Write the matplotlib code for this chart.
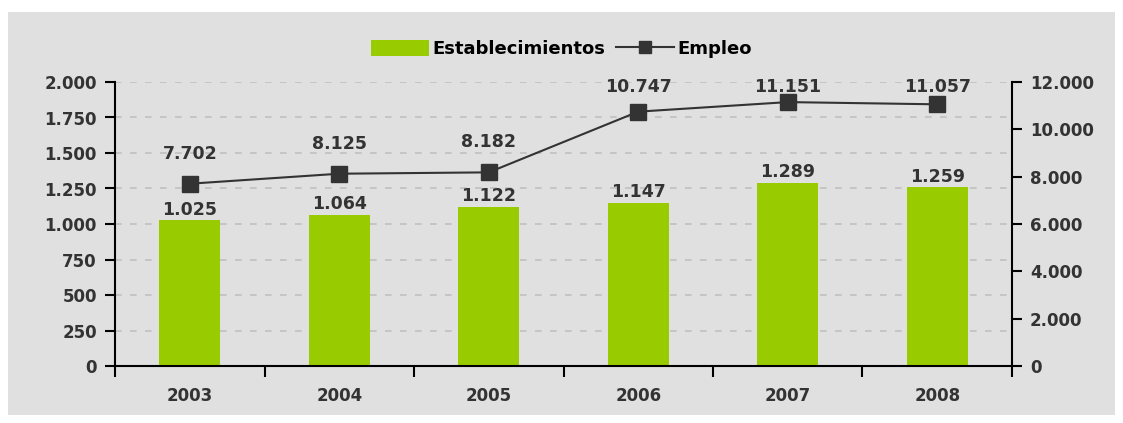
import matplotlib
matplotlib.use("Agg")
import matplotlib.pyplot as plt
from matplotlib.patches import Rectangle
from matplotlib.lines import Line2D
from matplotlib.ticker import FuncFormatter

years = ["2003", "2004", "2005", "2006", "2007", "2008"]
establecimientos = [1025, 1064, 1122, 1147, 1289, 1259]
empleo = [7702, 8125, 8182, 10747, 11151, 11057]

def fmt(v):
    return f"{int(round(v)):,}".replace(",", ".")

W, H = 1123, 423
fig = plt.figure(figsize=(W/100, H/100), dpi=100)
fig.patch.set_facecolor("white")
bg = Rectangle((8/W, 1 - 415/H), (1115-8)/W, (415-12)/H,
               transform=fig.transFigure, facecolor="#e0e0e0",
               edgecolor="none", zorder=-10)
fig.add_artist(bg)

txt = "#333333"
plt.rcParams['font.family'] = ['DejaVu Sans']
fw = "bold"
fs = 12

ax = fig.add_axes([115/W, 1 - 366/H, (1012-115)/W, (366-82)/H])
ax.set_facecolor("none")
x = list(range(len(years)))
ax.bar(x, establecimientos, width=0.41, color="#99cc00", zorder=2)
ax.set_xlim(-0.5, len(years) - 0.5)
ax.set_ylim(0, 2000)
ax.set_yticks(range(0, 2001, 250))
ax.yaxis.set_major_formatter(FuncFormatter(lambda v, p: fmt(v)))
ax.grid(axis="y", color="#c0c0c0", linestyle=(0, (4, 5)), linewidth=1.2, zorder=1)
ax.set_axisbelow(True)
ax.set_xticks(x)
ax.set_xticklabels(years)
ax.set_xticks([i + 0.5 for i in range(-1, len(years))], minor=True)
ax.tick_params(axis="x", which="major", length=0, pad=15, labelsize=fs, colors=txt)
ax.tick_params(axis="x", which="minor", length=8, width=1.5, color="black", direction="out")
ax.tick_params(axis="y", length=7, width=1.5, color="black", labelsize=fs, labelcolor=txt, pad=6)
for lab in ax.get_xticklabels() + ax.get_yticklabels():
    lab.set_fontweight(fw)
for s in ["top", "right"]:
    ax.spines[s].set_visible(False)
for s in ["left", "bottom"]:
    ax.spines[s].set_linewidth(1.5)
    ax.spines[s].set_color("black")
for xi, v in zip(x, establecimientos):
    ax.text(xi, v + 12, fmt(v), ha="center", va="bottom", fontsize=fs + 0.5,
            fontweight=fw, color=txt, zorder=5)

ax2 = ax.twinx()
ax2.set_ylim(0, 12000)
ax2.set_yticks(range(0, 12001, 2000))
ax2.yaxis.set_major_formatter(FuncFormatter(lambda v, p: fmt(v)))
ax2.plot(x, empleo, color="#333333", linewidth=1.5, marker="s", markersize=11,
         markerfacecolor="#333333", markeredgecolor="#333333", zorder=4)
ax2.tick_params(axis="y", length=7, width=1.5, color="black", labelsize=fs, labelcolor=txt, pad=6)
for lab in ax2.get_yticklabels():
    lab.set_fontweight(fw)
for s in ["top", "left", "bottom"]:
    ax2.spines[s].set_visible(False)
ax2.spines["right"].set_linewidth(1.5)
ax2.spines["right"].set_color("black")
# label 30 px above point, but kept inside the plot area's top
top_limit = 12000 - 200
for xi, v in zip(x, empleo):
    yl = min(v + 30 / 284 * 12000, top_limit)
    ax2.text(xi, yl, fmt(v), ha="center", va="center", fontsize=fs + 0.5,
             fontweight=fw, color=txt, zorder=5)

handles = [Rectangle((0, 0), 1, 1, facecolor="#99cc00", edgecolor="none"),
           Line2D([], [], color="#333333", linewidth=1.5, marker="s", markersize=9)]
leg = fig.legend(handles, ["Establecimientos", "Empleo"], loc="center",
                 bbox_to_anchor=(0.5, 1 - 49/H), ncol=2, frameon=False,
                 prop={"weight": "bold", "size": 13}, handlelength=3.2,
                 handleheight=1.0, handletextpad=0.2, columnspacing=0.6)
for t in leg.get_texts():
    t.set_color("black")

fig.savefig("out.png", dpi=100, facecolor=fig.get_facecolor())
